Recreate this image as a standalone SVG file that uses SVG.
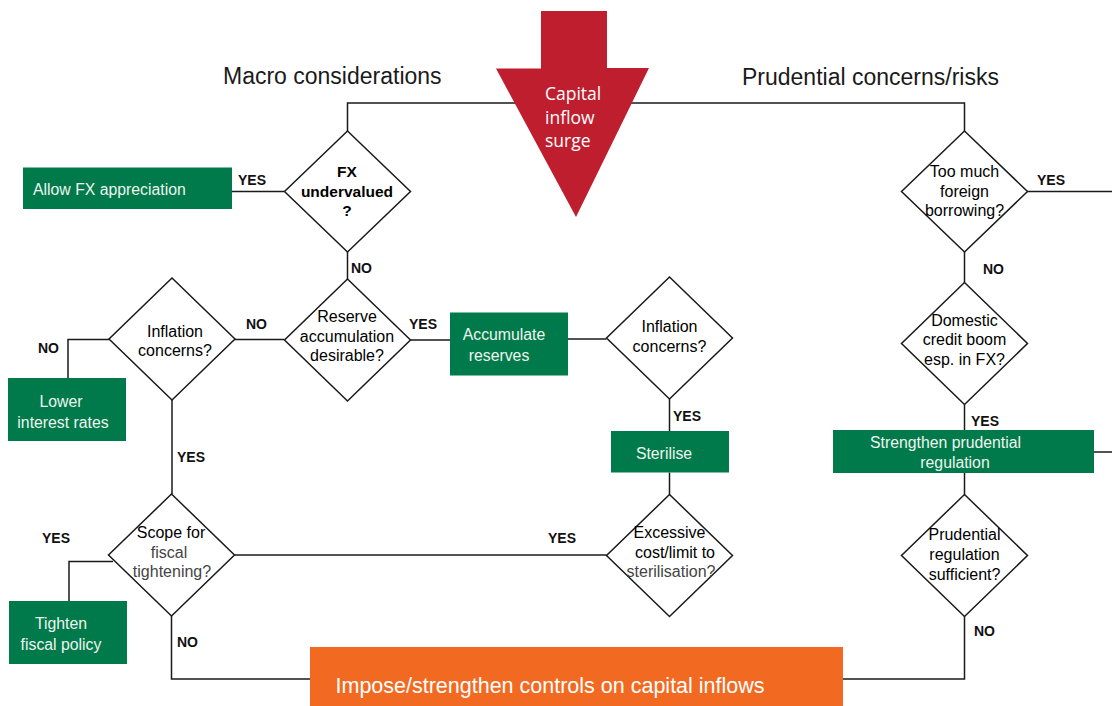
<svg xmlns="http://www.w3.org/2000/svg" width="1112" height="706" viewBox="0 0 1112 706">
<style>
.c{fill:none;stroke:#1a1a1a;stroke-width:1.5}
.d{fill:#fff;stroke:#1a1a1a;stroke-width:1.5}
.g{fill:#007a4a}
.o{fill:#f26a21}
.t{font-family:"Liberation Sans",Arial,sans-serif;font-size:16px;fill:#000;text-anchor:middle}
.tl{fill:#444}
.b{font-weight:bold;font-size:15.5px}
.w{font-family:"Liberation Sans",Arial,sans-serif;font-size:15.8px;fill:#eef5f0}
.m{text-anchor:middle}
.yn{font-family:"Liberation Sans",Arial,sans-serif;font-size:14px;font-weight:bold;fill:#111}
.h{font-family:"Liberation Sans",Arial,sans-serif;font-size:23px;fill:#1a1a1a}
</style>
<rect width="1112" height="706" fill="#fff"/>
<text class="h" x="223" y="84">Macro considerations</text>
<text class="h" x="742" y="85">Prudential concerns/risks</text>
<g id="connectors">
<path class="c" d="M347.5 131V103H964.5V131"/>
<path class="c" d="M232 191.5H284"/>
<path class="c" d="M347.5 252V279"/>
<path class="c" d="M235 339.5H284.5"/>
<path class="c" d="M109 339.5H68V378"/>
<path class="c" d="M172 400V494"/>
<path class="c" d="M113 561.5H69V601"/>
<path class="c" d="M234.5 555H606.5"/>
<path class="c" d="M171.5 616V679H310"/>
<path class="c" d="M410.5 340H450"/>
<path class="c" d="M568 339H606.5"/>
<path class="c" d="M669.5 399V431"/>
<path class="c" d="M669.5 472.5V494.5"/>
<path class="c" d="M1027.5 191.5H1112"/>
<path class="c" d="M964.5 252V282.5"/>
<path class="c" d="M964.5 404.5V430"/>
<path class="c" d="M1094 452H1112"/>
<path class="c" d="M964.5 473V494.5"/>
<path class="c" d="M964.5 616.5V679H843"/>
<g id="labels">
<text class="yn" x="238" y="185">YES</text>
<text class="yn" x="351" y="273">NO</text>
<text class="yn" x="246" y="329">NO</text>
<text class="yn" x="38" y="352.5">NO</text>
<text class="yn" x="177" y="461.5">YES</text>
<text class="yn" x="42" y="543">YES</text>
<text class="yn" x="548" y="543">YES</text>
<text class="yn" x="177" y="646.5">NO</text>
<text class="yn" x="409" y="329">YES</text>
<text class="yn" x="673" y="420.5">YES</text>
<text class="yn" x="1037" y="185">YES</text>
<text class="yn" x="983" y="274">NO</text>
<text class="yn" x="971" y="425.5">YES</text>
<text class="yn" x="974" y="636">NO</text>
</g>
</g>
<g id="capital-inflow-surge">
<polygon points="541,11 607,11 607,68 649,68 576,217 496,68.5 541,68.5" fill="#be1e2d"/>
<text x="545" y="100" font-family="'Open Sans',sans-serif" font-size="17.5" fill="#fff">Capital</text>
<text x="545" y="123.5" font-family="'Open Sans',sans-serif" font-size="17.5" fill="#fff">inflow</text>
<text x="545" y="146.5" font-family="'Open Sans',sans-serif" font-size="17.5" fill="#fff">surge</text>
</g>
<g id="fx-undervalued">
<polygon class="d" points="347.5,131 410.5,191.5 347.5,252 284.5,191.5"/>
<text class="t b" x="347" y="177">FX</text>
<text class="t b" x="347" y="197">undervalued</text>
<text class="t b" x="347" y="216">?</text>
</g>
<g id="allow-fx">
<rect class="g" x="23" y="167.5" width="209" height="41.5"/>
<text class="w" x="33" y="195">Allow FX appreciation</text>
</g>
<g id="reserve-accumulation">
<polygon class="d" points="347.5,279 410.5,340 347.5,401 284.5,340"/>
<text class="t" x="347" y="321.5">Reserve</text>
<text class="t" x="347" y="341.5">accumulation</text>
<text class="t" x="347" y="361">desirable?</text>
</g>
<g id="inflation-left">
<polygon class="d" points="172,278 235,339 172,400 109,339"/>
<text class="t" x="175" y="337">Inflation</text>
<text class="t" x="175" y="356">concerns?</text>
</g>
<g id="lower-rates">
<rect class="g" x="8" y="378" width="118" height="63"/>
<text class="w m" x="61" y="406.5">Lower</text>
<text class="w m" x="63" y="427.5">interest rates</text>
</g>
<g id="accumulate-reserves">
<rect class="g" x="450" y="312.5" width="118" height="63"/>
<text class="w m" x="504" y="340">Accumulate</text>
<text class="w m" x="499" y="361">reserves</text>
</g>
<g id="inflation-right">
<polygon class="d" points="669.5,277 732.5,338 669.5,399 606.5,338"/>
<text class="t" x="669.5" y="332">Inflation</text>
<text class="t" x="669.5" y="352">concerns?</text>
</g>
<g id="sterilise">
<rect class="g" x="611" y="431" width="118" height="41.5"/>
<text class="w m" x="664" y="459">Sterilise</text>
</g>
<g id="scope-fiscal">
<polygon class="d" points="171.5,494 234.5,555 171.5,616 108.5,555"/>
<text class="t" x="171" y="537.5">Scope for</text>
<text class="t tl" x="169" y="557.5">fiscal</text>
<text class="t tl" x="172" y="576.5">tightening?</text>
</g>
<g id="tighten-fiscal">
<rect class="g" x="9" y="601" width="118" height="63"/>
<text class="w m" x="61" y="628.5">Tighten</text>
<text class="w m" x="61" y="649.5">fiscal policy</text>
</g>
<g id="excessive-cost">
<polygon class="d" points="669.5,494.5 732.5,555.5 669.5,616.5 606.5,555.5"/>
<text class="t" x="669.5" y="537.5">Excessive</text>
<text class="t" x="675" y="557.5">cost/limit to</text>
<text class="t tl" x="671" y="577">sterilisation?</text>
</g>
<g id="foreign-borrowing">
<polygon class="d" points="964.5,131 1027.5,191.5 964.5,252 901.5,191.5"/>
<text class="t" x="964.5" y="177">Too much</text>
<text class="t" x="964.5" y="197">foreign</text>
<text class="t" x="964.5" y="216">borrowing?</text>
</g>
<g id="domestic-credit">
<polygon class="d" points="964.5,282.5 1027.5,343.5 964.5,404.5 901.5,343.5"/>
<text class="t" x="964.5" y="325.5">Domestic</text>
<text class="t" x="964.5" y="345">credit boom</text>
<text class="t" x="964.5" y="364.5">esp. in FX?</text>
</g>
<g id="strengthen-prudential">
<rect class="g" x="833" y="430" width="261" height="43"/>
<text class="w" x="870" y="448">Strengthen prudential</text>
<text class="w m" x="955" y="468">regulation</text>
</g>
<g id="prudential-sufficient">
<polygon class="d" points="964.5,494.5 1027.5,555.5 964.5,616.5 901.5,555.5"/>
<text class="t" x="964.5" y="540">Prudential</text>
<text class="t" x="964.5" y="559.5">regulation</text>
<text class="t" x="964.5" y="579.5">sufficient?</text>
</g>
<g id="capital-controls">
<rect class="o" x="310" y="647" width="533" height="59"/>
<text x="335.5" y="693" font-family="'Liberation Sans',Arial,sans-serif" font-size="21.5" fill="#fff">Impose/strengthen controls on capital inflows</text>
</g>
</svg>
